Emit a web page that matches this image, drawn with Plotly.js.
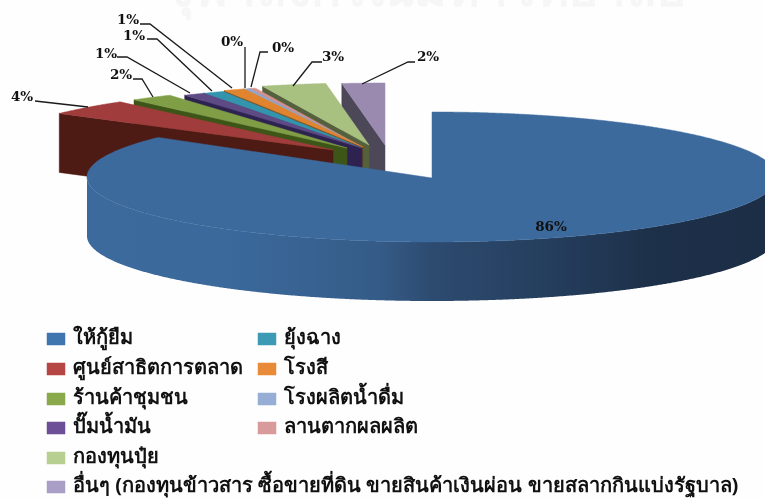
<!DOCTYPE html>
<html><head><meta charset="utf-8">
<script src="https://cdn.plot.ly/plotly-3.0.1.min.js"></script>
<style>html,body{margin:0;padding:0;background:#fff}#c{width:765px;height:498px;filter:blur(0.4px)}</style>
</head><body><div id="c"></div>
<script>
const categories = ["ให้กู้ยืม","ศูนย์สาธิตการตลาด","ร้านค้าชุมชน","ปั๊มน้ำมัน","ยุ้งฉาง","โรงสี","โรงผลิตน้ำดื่ม","ลานตากผลผลิต","กองทุนปุ๋ย","อื่นๆ (กองทุนข้าวสาร ซื้อขายที่ดิน ขายสินค้าเงินผ่อน ขายสลากกินแบ่งรัฐบาล)"];
const values = [85.5,4,2,1,1,1,0.3,0.3,3,2];
const watermark = "จุฬาลงกรณ์มหาวิทยาลัย";
const topColors = ["#3d6a9d","#a03c3c","#7f9e45","#5e4a85","#3395ad","#e0842f","#8fa8d0","#d49090","#a8c080","#9a8ab0"];
const wallColors = ["#3d6a9d","#4d1a14","#3e5518","#2e2350","#18505e","#7a4716","#55688a","#7a5555","#55603c","#4d4858"];
const legendColors = ["#3f76b0","#b64644","#8aa84c","#6c4f96","#3c9ab5","#e88a37","#96aed6","#d89a9a","#b8cf92","#a99fc6"];
const legendX = [56,56,56,56,267,267,267,267,56,56];
const legendY = [339,369,399,428,339,369,399,428,458,487];
const explodeX = [0,-99,-85,-70,-70,-69,-70,-70,-63,-47];
const explodeY = [0,-24,-26,-26,-26,-27,-27,-27,-29,-29];
const labelX = [551,22,121,106,134,128,232,283,333,428];
const labelY = [228,98,76,55,37,21,43,49,58,58];
const leaderX = [null,[35,88],[133,142,153],[117,127,190],[147,157,212],[140,150,232],[245,245],[268,260,251],[322,312,293],[415,408,362]];
const leaderY = [null,[101,107],[79,79,97],[57,57,93],[39,39,91],[24,24,88],[47,88],[52,52,87],[62,62,86],[62,62,84]];

const CX=432, CY=177, RX=345, RY=65, APEXY=178, DEPTH=59;
const rad=a=>a*Math.PI/180;
const px=a=>CX+RX*Math.sin(rad(a));
const py=a=>CY-RY*Math.cos(rad(a));
function arc(a0,a1,dx=0,dy=0){const n=Math.max(4,Math.ceil(Math.abs(a1-a0)*4));const X=[],Y=[];
  for(let i=0;i<=n;i++){const a=a0+(a1-a0)*i/n;X.push(px(a)+dx);Y.push(py(a)+dy);}return [X,Y];}
const total=values.reduce((s,v)=>s+v,0);
let acc=0;const bounds=values.map(v=>{const a=acc;acc+=v/total*360;return [a,acc];});
const traces=[];
function poly(X,Y,color){traces.push({type:"scatter",mode:"lines",x:X.concat(X[0]),y:Y.concat(Y[0]),fill:"toself",fillcolor:color,line:{width:0.5,color:color,simplify:false},hoverinfo:"skip"});}
traces.push({type:"scatter",mode:"text",x:[425],y:[-7],text:[watermark],textposition:"middle center",
  textfont:{family:"Noto Sans, sans-serif",size:50,weight:700,color:"#f6f6f6"},hoverinfo:"skip"});
for(let i=values.length-1;i>=1;i--){
  const [a0,a1]=bounds[i],dx=explodeX[i],dy=explodeY[i];
  const ax=CX+dx, ay=APEXY+dy-4;
  const sx=px(a0)+dx, sy=py(a0)+dy;
  poly([sx,ax,ax,sx],[sy,ay,ay+DEPTH,sy+DEPTH],wallColors[i]);
  const [X,Y]=arc(a0,a1,dx,dy);
  poly([ax].concat(X),[ay].concat(Y),topColors[i]);
}
const [wx,wy]=arc(270,90);
const [bx,by]=arc(90,270,0,DEPTH);
traces.push({type:"scatter",mode:"lines",x:wx.concat(bx,wx[0]),y:wy.concat(by,wy[0]),fill:"toself",line:{width:0,simplify:false},hoverinfo:"skip",
  fillgradient:{type:"horizontal",colorscale:[[0,"#3d6a9d"],[0.2,"#3b699c"],[0.42,"#355c88"],[0.5,"#2d4b70"],[0.68,"#243d5c"],[0.82,"#1d3049"],[1,"#1c2e46"]]}});
const [tx,ty]=arc(bounds[0][0],bounds[0][1]);
poly([CX].concat(tx),[APEXY].concat(ty),topColors[0]);
leaderX.forEach((lx,i)=>{if(lx)traces.push({type:"scatter",mode:"lines",x:lx,y:leaderY[i],line:{color:"#1a1a1a",width:1.3},hoverinfo:"skip"});});
traces.push({type:"scatter",mode:"text",x:labelX,y:labelY,text:values.map(v=>Math.round(v)+"%"),textposition:"middle center",
  textfont:{family:"DejaVu Serif, serif",size:13.5,weight:700,color:"#111"},hoverinfo:"skip"});
legendX.forEach((x,i)=>poly([x-9,x+9,x+9,x-9],[legendY[i]-6,legendY[i]-6,legendY[i]+6,legendY[i]+6],legendColors[i]));
traces.push({type:"scatter",mode:"text",x:legendX.map(x=>x+17),y:legendY,text:categories,textposition:"middle right",
  textfont:{family:"Noto Sans, sans-serif",size:20,weight:700,color:"#111"},hoverinfo:"skip"});
Plotly.newPlot("c",traces,{width:765,height:498,margin:{l:0,r:0,t:0,b:0},showlegend:false,
  paper_bgcolor:"#fefefe",plot_bgcolor:"#fefefe",
  xaxis:{range:[0,765],visible:false,fixedrange:true},
  yaxis:{range:[498,0],visible:false,fixedrange:true}},{displayModeBar:false,staticPlot:true});
</script></body></html>
